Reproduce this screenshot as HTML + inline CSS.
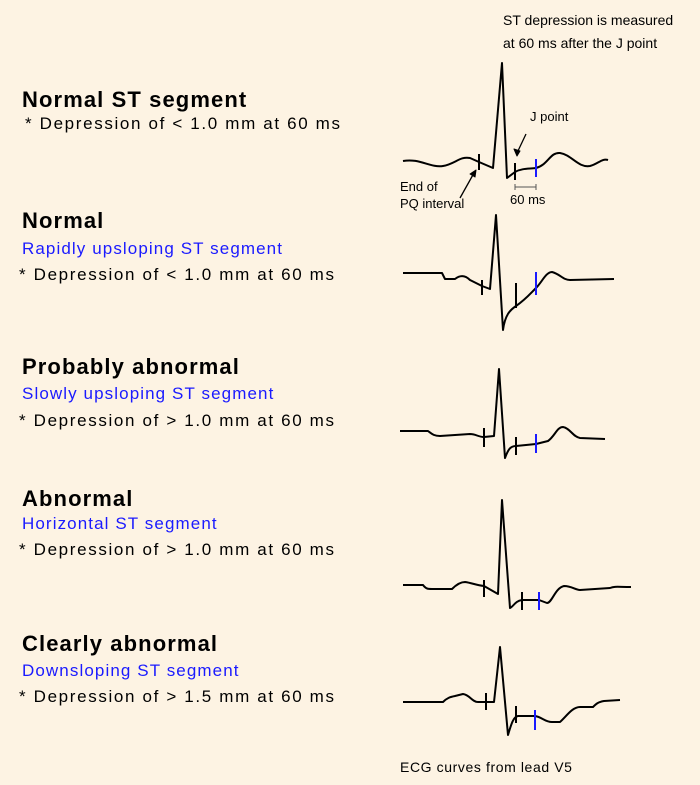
<!DOCTYPE html><html><head><style>
body{margin:0;width:700px;height:785px;background:#fdf3e3;font-family:"Liberation Sans",sans-serif;position:relative;overflow:hidden}
.t{position:absolute;white-space:nowrap;color:#000}
.h{font-size:22px;font-weight:bold;letter-spacing:1.1px}
.s{font-size:17px;letter-spacing:1.65px}
.b{color:#1a1aff;font-size:17px;letter-spacing:1.1px}
</style></head><body>
<div class="t h" style="left:22px;top:87px">Normal ST segment</div>
<div class="t s" style="left:25px;top:114px">* Depression of &lt; 1.0 mm at 60 ms</div>
<div class="t h" style="left:22px;top:208px">Normal</div>
<div class="t b" style="left:22px;top:239px">Rapidly upsloping ST segment</div>
<div class="t s" style="left:19px;top:265px">* Depression of &lt; 1.0 mm at 60 ms</div>
<div class="t h" style="left:22px;top:354px">Probably abnormal</div>
<div class="t b" style="left:22px;top:384px">Slowly upsloping ST segment</div>
<div class="t s" style="left:19px;top:411px">* Depression of &gt; 1.0 mm at 60 ms</div>
<div class="t h" style="left:22px;top:486px">Abnormal</div>
<div class="t b" style="left:22px;top:514px">Horizontal ST segment</div>
<div class="t s" style="left:19px;top:540px">* Depression of &gt; 1.0 mm at 60 ms</div>
<div class="t h" style="left:22px;top:631px">Clearly abnormal</div>
<div class="t b" style="left:22px;top:661px">Downsloping ST segment</div>
<div class="t s" style="left:19px;top:687px">* Depression of &gt; 1.5 mm at 60 ms</div>
<div class="t" style="left:503px;top:12px;font-size:14px">ST depression is measured</div>
<div class="t" style="left:503px;top:35px;font-size:14px">at 60 ms after the J point</div>
<div class="t" style="left:530px;top:109px;font-size:13px">J point</div>
<div class="t" style="left:400px;top:179px;font-size:13px">End of</div>
<div class="t" style="left:400px;top:196px;font-size:13px">PQ interval</div>
<div class="t" style="left:510px;top:192px;font-size:13px">60 ms</div>
<div class="t" style="left:400px;top:759px;font-size:14px;letter-spacing:0.6px">ECG curves from lead V5</div>
<svg width="700" height="785" style="position:absolute;left:0;top:0" fill="none" stroke="#000" stroke-width="2" stroke-linejoin="round">
<path d="M403,161 C420,158 430,168 443,166 C455,164 460,156 470,158 L479,162 L493,168 L502,63 L507,178 L515,172 C522,168 530,169 536,168 C548,165 550,152 560,153 C572,155 578,168 590,166 C598,164 602,158 608,160"/>
<path d="M479,154V170M515,163V180"/><path d="M536,159V177" stroke="#1a1aff"/>
<path d="M515,187H536M515,184V190M536,184V190" stroke="#555" stroke-width="1"/>
<path d="M526,134L517,153" stroke-width="1.3"/><path d="M517,156l-3,-7l6,2z" fill="#000" stroke-width="1"/>
<path d="M460,198L474,173" stroke-width="1.3"/><path d="M476,170l-1,7l-5,-3z" fill="#000" stroke-width="1"/>
<path d="M403,273 L442,273 L445,279 L455,279 C460,275 465,275 470,280 L482,286 L490,289 L496,215 L503,330 C505,315 510,310 516,306 C525,300 530,294 536,288 C542,282 546,272 552,272 C560,274 563,280 570,280 L614,279"/>
<path d="M482,280V295M516,283V308"/><path d="M536,272V295" stroke="#1a1aff"/>
<path d="M400,431 L428,431 C432,434 434,436 440,436 L470,434 C476,434 478,437 484,437 L494,436 L499,369 L505,458 C508,450 510,446 516,446 L536,444 L548,441 C555,436 557,427 563,427 C570,428 573,437 580,438 L605,439"/>
<path d="M484,428V447M516,437V455"/><path d="M536,434V453" stroke="#1a1aff"/>
<path d="M403,585 L423,585 C426,589 428,589 432,589 L452,589 C456,585 460,582 465,582 C472,583 476,585 484,586 L498,594 L502,500 L510,608 C514,606 515,601 522,600 L539,600 L547,603 C552,603 555,588 564,586 C572,586 575,590 580,590 L610,588 C615,586 618,587 631,587"/>
<path d="M484,580V597M522,592V610"/><path d="M539,592V610" stroke="#1a1aff"/>
<path d="M403,702 L443,702 C447,698 450,697 455,696 L463,694 C470,695 472,702 478,702 L486,702 L494,702 L500,647 L508,735 C511,725 513,717 518,716 L535,716 C542,717 545,722 552,722 L560,722 C566,717 572,707 580,707 L593,707 C596,704 598,702 604,701 L620,700"/>
<path d="M486,693V710M516,706V723"/><path d="M535,710V730" stroke="#1a1aff"/>
</svg>
</body></html>
